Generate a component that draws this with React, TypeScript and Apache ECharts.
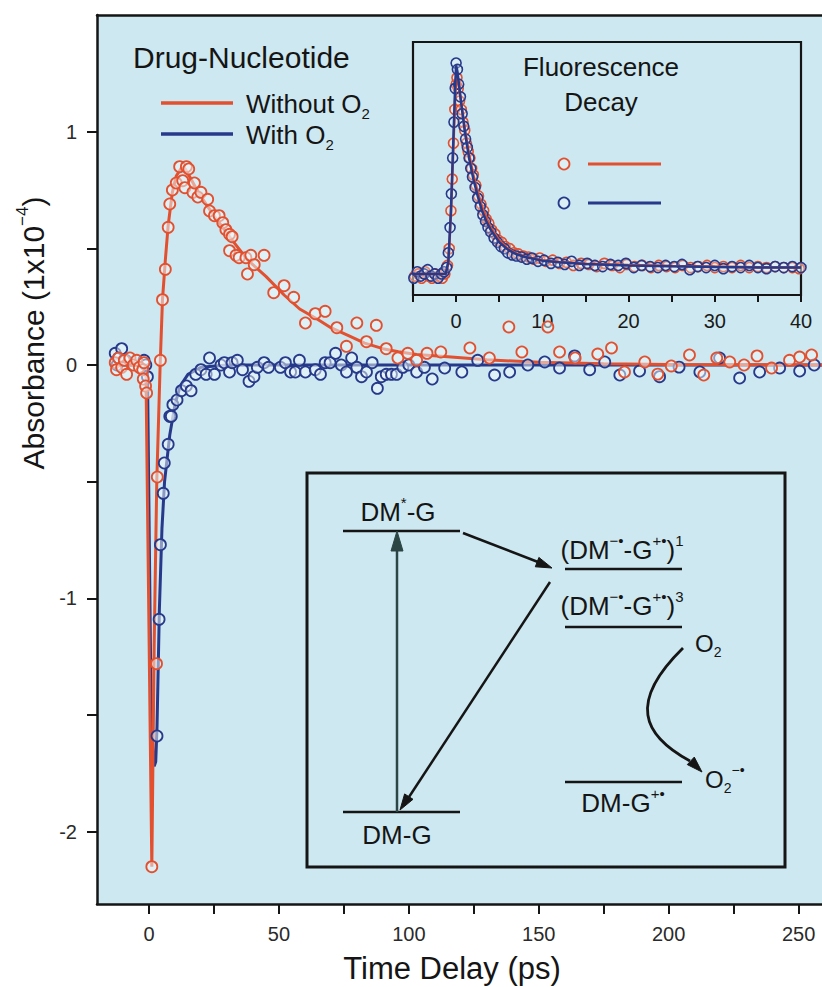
import React, { useEffect, useRef } from "react";
import * as echarts from "echarts";

const FONT = '"Liberation Sans", Arial, Helvetica, sans-serif';
const RED = "#e2502f";
const BLUE = "#27398a";
const BG = "#cde8f0";
const INK = "#151515";

// ---- main plot axes ----
const xTickValues = [0, 25, 50, 75, 100, 125, 150, 175, 200, 225, 250];
const xLabelValues = [0, 50, 100, 150, 200, 250];
const yTickValues = [-2, -1.5, -1, -0.5, 0, 0.5, 1];
const yLabelValues = [-2, -1, 0, 1];

// ---- main plot data: [time (ps), absorbance (1e-4)] ----
const withoutO2Points: number[][] = [
  [-13, 0.01], [-12.5, -0.02], [-11.7, 0.03], [-10.5, -0.01], [-9.5, 0.02], [-8.6, -0.04], [-7.3, 0.03], [-6, 0],
  [-4.7, 0.02], [-3.7, -0.01], [-2.4, -0.02], [-1.9, 0.01], [-2.2, -0.06], [-1.3, -0.09], [-0.9, -0.12],
  [1.1, -2.15], [2.9, -1.28], [3.2, -0.48], [4.4, 0.02],
  [5.2, 0.28], [6.3, 0.41], [7.4, 0.59], [8, 0.69], [9, 0.75], [10.5, 0.78], [11.8, 0.85], [13, 0.79], [13.8, 0.76],
  [14.4, 0.85], [15.3, 0.84], [16.9, 0.74], [17.5, 0.78], [18.8, 0.72], [20, 0.74], [22.6, 0.71], [23.3, 0.66],
  [25.2, 0.64], [27, 0.64], [28.4, 0.61], [29.6, 0.58], [31, 0.56], [32, 0.55], [31, 0.49], [33.5, 0.47],
  [34.7, 0.46], [37.3, 0.46], [39.2, 0.47], [40.5, 0.43], [37.9, 0.39], [44.3, 0.47], [48, 0.31], [52, 0.34],
  [55.7, 0.29], [60.2, 0.18], [64, 0.22], [67.8, 0.23], [72.3, 0.16], [76, 0.08], [80, 0.18], [83.7, 0.1],
  [87.5, 0.17], [91.3, 0.07], [95.8, 0.03], [99.6, 0.05], [103, 0.02], [107, 0.05],
  [112.3, 0.056], [123.5, 0.073], [131, 0.03], [138.5, 0.163], [143.5, 0.056], [153.5, 0.163], [158, 0.056],
  [164, 0.03], [172.7, 0.047], [178, 0.073], [183, -0.03], [190.8, 0.013], [195.8, -0.039], [201, -0.004],
  [208, 0.043], [213.5, -0.043], [218.5, 0.03], [223.5, 0.013], [229, 0], [234, 0.039], [239.6, -0.013],
  [246.5, 0.02], [250.4, 0.034], [255, 0.043],
];

const withO2Points: number[][] = [
  [-13, 0.05], [-12.3, 0.0], [-11.7, 0.03], [-10.5, 0.07], [-9, 0.02], [-1.9, 0.02], [-1.2, 0.0], [-0.6, -0.05],
  [3.1, -1.59], [3.9, -1.09], [4.4, -0.77], [5.5, -0.55], [5.9, -0.42], [7.4, -0.34], [8, -0.22], [8.6, -0.22],
  [9.2, -0.17], [10.8, -0.15], [12.5, -0.11], [14.4, -0.09], [16.2, -0.11], [18, -0.04], [20, -0.02], [22, -0.04],
  [23.3, 0.03], [25.2, -0.04], [27.7, 0], [29, 0.01], [31, -0.03], [32, 0.01], [34, 0.02], [36, -0.02],
  [38.5, -0.07], [40.4, -0.05], [41.7, -0.01], [44.3, 0.01], [46, -0.01], [50.6, -0.01], [52.5, 0.01],
  [54.5, -0.03], [56.3, -0.03], [57.9, 0.02], [60.2, -0.03], [64, -0.02], [66, -0.04], [67.8, 0.01], [69.7, 0.01],
  [71.8, 0.05], [74, 0], [76, -0.03], [78, 0.03], [80, -0.01], [81.8, -0.05], [83.7, -0.03], [85.9, 0.01],
  [87.9, -0.1], [89.4, -0.05], [91.3, -0.04], [93.3, -0.04], [95.3, -0.04], [97.7, -0.01], [100, 0], [103, -0.03],
  [106, -0.01], [109, -0.06], [113.8, -0.013], [120.4, -0.03], [126.5, 0.02], [133, -0.043], [138.8, -0.03],
  [145.8, 0], [152.3, 0.013], [158, -0.013], [163.8, 0.039], [169.6, -0.02], [175.4, 0.013], [181.2, -0.043],
  [188.8, -0.026], [196.5, -0.05], [204, -0.009], [212, -0.03], [219.6, 0.03], [227.3, -0.056], [235, -0.03],
  [242.7, -0.013], [250.4, -0.026], [256, 0],
];

const withoutO2Fit: number[][] = [
  [-13, 0], [-1.2, 0], [0.5, -1.6], [1.1, -2.15], [2, -1.2], [3, -0.5], [4.3, 0], [5.2, 0.28], [6.3, 0.45],
  [7.4, 0.6], [9, 0.74], [10.5, 0.81], [12.5, 0.845], [14, 0.84], [16, 0.8], [19.5, 0.73], [25, 0.64],
  [32, 0.535], [38, 0.45], [45, 0.38], [52, 0.3], [58, 0.24], [65, 0.195], [70, 0.16], [77, 0.125], [83, 0.094],
  [90, 0.07], [96, 0.057], [103, 0.045], [115, 0.035], [130, 0.022], [150, 0.012], [175, 0.005], [200, 0.002],
  [259, 0],
];

const withO2Fit: number[][] = [
  [-13, 0], [-0.6, 0], [0.9, -1.55], [2.0, -1.72], [2.6, -1.7], [3.1, -1.55], [4, -1.05], [5, -0.7], [6, -0.5],
  [8, -0.3], [10, -0.17], [12, -0.09], [15, -0.04], [20, -0.01], [30, 0], [259, 0],
];

// ---- inset (fluorescence decay) ----
const insetLabelValues = [0, 10, 20, 30, 40];

const insetWithoutPoints: number[][] = [
  [-4.8, -0.01], [-4.4, 0.0], [-4.0, -0.02], [-3.6, 0.01], [-3.2, -0.01], [-2.8, -0.02], [-2.4, 0.0], [-2.0, -0.01],
  [-1.6, -0.02], [-1.3, 0.0], [-1.0, 0.04], [-0.8, 0.12], [-0.6, 0.3], [-0.45, 0.45], [-0.3, 0.62], [-0.15, 0.78],
  [0, 0.9], [0.1, 0.93], [0.25, 0.88], [0.4, 0.82], [0.6, 0.78], [0.8, 0.72], [1.0, 0.68], [1.2, 0.62],
  [1.4, 0.58], [1.6, 0.55], [1.8, 0.5], [2.0, 0.47], [2.3, 0.42], [2.6, 0.37], [2.9, 0.33], [3.2, 0.3],
  [3.5, 0.26], [3.8, 0.24], [4.1, 0.21], [4.5, 0.19], [4.9, 0.16], [5.3, 0.15], [5.7, 0.13], [6.2, 0.12],
  [6.7, 0.1], [7.2, 0.095], [7.8, 0.085], [8.4, 0.08], [9.0, 0.07], [9.7, 0.075], [10.4, 0.06], [11.2, 0.065],
  [12.0, 0.05], [12.8, 0.055], [13.6, 0.04], [14.5, 0.05], [15.4, 0.045], [16.3, 0.035], [17.2, 0.05],
  [18.1, 0.04], [19.0, 0.03], [19.8, 0.045], [20.7, 0.035], [21.6, 0.04], [22.6, 0.03], [23.5, 0.04],
  [24.4, 0.035], [25.4, 0.03], [26.3, 0.04], [27.2, 0.03], [28.1, 0.035], [29.1, 0.04], [30.0, 0.03],
  [31.0, 0.035], [32.0, 0.03], [33.0, 0.04], [34.0, 0.03], [35.0, 0.035], [36.0, 0.03], [37.0, 0.035],
  [38.0, 0.03], [39.0, 0.03], [39.8, 0.025],
];

const insetWithPoints: number[][] = [
  [-4.9, -0.02], [-4.5, 0.01], [-4.1, -0.01], [-3.7, 0.0], [-3.3, 0.02], [-2.9, -0.01], [-2.5, 0.0], [-2.1, -0.02],
  [-1.7, 0.0], [-1.4, 0.01], [-1.1, 0.03], [-0.9, 0.1], [-0.7, 0.22], [-0.55, 0.38], [-0.4, 0.55], [-0.25, 0.72],
  [-0.1, 0.88], [0, 1.0], [0.15, 0.97], [0.3, 0.9], [0.5, 0.84], [0.7, 0.76], [0.9, 0.7], [1.1, 0.64],
  [1.3, 0.6], [1.5, 0.55], [1.7, 0.5], [1.9, 0.46], [2.2, 0.41], [2.5, 0.36], [2.8, 0.32], [3.1, 0.28],
  [3.4, 0.25], [3.7, 0.22], [4.0, 0.2], [4.4, 0.17], [4.8, 0.15], [5.2, 0.13], [5.6, 0.12], [6.0, 0.1],
  [6.5, 0.09], [7.0, 0.085], [7.6, 0.08], [8.2, 0.07], [8.8, 0.075], [9.5, 0.06], [10.2, 0.065], [11.0, 0.05],
  [11.8, 0.055], [12.6, 0.045], [13.4, 0.06], [14.3, 0.04], [15.2, 0.05], [16.1, 0.04], [17.0, 0.035],
  [17.9, 0.045], [18.8, 0.04], [19.7, 0.05], [20.6, 0.03], [21.5, 0.04], [22.5, 0.035], [23.4, 0.03],
  [24.3, 0.04], [25.3, 0.035], [26.2, 0.045], [27.1, 0.02], [28.0, 0.035], [29.0, 0.03], [30.0, 0.04],
  [31.0, 0.025], [32.0, 0.035], [33.0, 0.03], [34.0, 0.04], [35.0, 0.03], [36.0, 0.025], [37.0, 0.035],
  [38.0, 0.03], [39.0, 0.035], [40.0, 0.03],
];

const insetWithoutFit: number[][] = [
  [-5, 0], [-1.2, 0], [-0.9, 0.05], [-0.6, 0.28], [-0.3, 0.62], [-0.1, 0.85], [0.05, 0.94], [0.2, 0.92],
  [0.5, 0.84], [1, 0.69], [1.5, 0.57], [2, 0.47], [2.5, 0.39], [3, 0.32], [3.5, 0.27], [4, 0.22], [5, 0.16],
  [6, 0.12], [7, 0.097], [8, 0.082], [10, 0.065], [12, 0.056], [15, 0.048], [20, 0.042], [25, 0.038],
  [30, 0.035], [35, 0.032], [40, 0.03],
];

const insetWithFit: number[][] = [
  [-5, 0], [-1.2, 0], [-0.9, 0.06], [-0.6, 0.3], [-0.3, 0.66], [-0.1, 0.9], [0, 0.99], [0.15, 0.96],
  [0.5, 0.84], [1, 0.68], [1.5, 0.55], [2, 0.45], [2.5, 0.37], [3, 0.3], [3.5, 0.25], [4, 0.21], [5, 0.15],
  [6, 0.115], [7, 0.093], [8, 0.08], [10, 0.063], [12, 0.055], [15, 0.047], [20, 0.04], [25, 0.036],
  [30, 0.033], [35, 0.031], [40, 0.03],
];

const richBase = (size: number) => ({
  n: { fontSize: size, lineHeight: size + 8, fontFamily: FONT, fill: INK },
  sup: { fontSize: Math.round(size * 0.58), lineHeight: Math.round(size * 0.58), fontFamily: FONT, fill: INK, verticalAlign: "top" },
  sub: { fontSize: Math.round(size * 0.58), lineHeight: Math.round(size * 0.58), fontFamily: FONT, fill: INK, verticalAlign: "bottom" },
});

function txt(x: number, y: number, text: string, size: number, align = "center", extra: any = {}) {
  return {
    type: "text",
    x,
    y,
    z: 100,
    ...extra,
    style: {
      text,
      rich: richBase(size),
      fontSize: size,
      fontFamily: FONT,
      fill: INK,
      align,
      textAlign: align,
      verticalAlign: "middle",
      textVerticalAlign: "middle",
    },
  };
}

function seg(x1: number, y1: number, x2: number, y2: number, color = INK, w = 2.5) {
  return { type: "line", z: 100, shape: { x1, y1, x2, y2 }, style: { stroke: color, lineWidth: w } };
}

function head(points: number[][], color = INK) {
  return { type: "polygon", z: 100, shape: { points }, style: { fill: color, stroke: color, lineWidth: 1 } };
}

const axisLineStyle = { color: INK, width: 2.5 };

export default function App() {
  const ref = useRef<HTMLDivElement>(null);

  useEffect(() => {
    if (!ref.current) return;
    const chart = echarts.init(ref.current, null, { renderer: "svg" });

    const option: any = {
      animation: false,
      backgroundColor: "#ffffff",
      textStyle: { fontFamily: FONT },
      grid: [
        { left: 97, top: 15, width: 725, height: 889, show: true, backgroundColor: BG, borderWidth: 0, z: 0 },
        { left: 413, top: 42, width: 388, height: 253, show: true, backgroundColor: "transparent", borderColor: INK, borderWidth: 2.2 },
      ],
      xAxis: [
        {
          gridIndex: 0, type: "value", min: -20, max: 259,
          axisLine: { show: true, onZero: false, lineStyle: axisLineStyle },
          axisTick: { show: true, length: 10, customValues: xTickValues, lineStyle: { color: INK, width: 2 } },
          axisLabel: { customValues: xLabelValues, fontSize: 20, color: "#2a2a2a", margin: 20, fontFamily: FONT },
          splitLine: { show: false },
        },
        {
          gridIndex: 0, type: "value", position: "top", min: -20, max: 259,
          axisLine: { show: true, onZero: false, lineStyle: axisLineStyle },
          axisTick: { show: false }, axisLabel: { show: false }, splitLine: { show: false },
        },
        {
          gridIndex: 1, type: "value", min: -5, max: 40, interval: 5,
          axisLine: { show: true, onZero: false, lineStyle: { color: INK, width: 2.2 } },
          axisTick: { show: true, length: 7, lineStyle: { color: INK, width: 2 } },
          axisLabel: {
            customValues: insetLabelValues, fontSize: 20, color: "#1a1a1a", margin: 16, fontFamily: FONT,
            showMinLabel: true, showMaxLabel: true,
          },
          splitLine: { show: false },
        },
      ],
      yAxis: [
        {
          gridIndex: 0, type: "value", min: -2.31, max: 1.5,
          axisLine: { show: true, onZero: false, lineStyle: axisLineStyle },
          axisTick: { show: true, length: 10, customValues: yTickValues, lineStyle: { color: INK, width: 2 } },
          axisLabel: { customValues: yLabelValues, fontSize: 20, color: "#2a2a2a", margin: 20, fontFamily: FONT },
          splitLine: { show: false },
        },
        {
          gridIndex: 1, type: "value", min: -0.1, max: 1.1,
          axisLine: { show: false }, axisTick: { show: false }, axisLabel: { show: false }, splitLine: { show: false },
        },
      ],
      series: [
        {
          name: "With O₂ fit", type: "line", xAxisIndex: 0, yAxisIndex: 0, data: withO2Fit,
          symbol: "none", lineStyle: { color: BLUE, width: 3 }, z: 2,
        },
        {
          name: "Without O₂ fit", type: "line", xAxisIndex: 0, yAxisIndex: 0, data: withoutO2Fit,
          symbol: "none", lineStyle: { color: RED, width: 3 }, z: 2,
        },
        {
          name: "With O₂", type: "scatter", xAxisIndex: 0, yAxisIndex: 0, data: withO2Points, symbolSize: 11,
          itemStyle: { color: "rgba(240,250,252,0.5)", borderColor: BLUE, borderWidth: 1.8, opacity: 1 }, z: 3,
        },
        {
          name: "Without O₂", type: "scatter", xAxisIndex: 0, yAxisIndex: 0, data: withoutO2Points, symbolSize: 11,
          itemStyle: { color: "rgba(240,250,252,0.5)", borderColor: RED, borderWidth: 1.8, opacity: 1 }, z: 3,
        },
        {
          name: "Inset without O₂", type: "scatter", xAxisIndex: 2, yAxisIndex: 1, data: insetWithoutPoints, symbolSize: 10,
          itemStyle: { color: "rgba(240,250,252,0.3)", borderColor: RED, borderWidth: 1.6, opacity: 1 }, z: 3,
        },
        {
          name: "Inset with O₂", type: "scatter", xAxisIndex: 2, yAxisIndex: 1, data: insetWithPoints, symbolSize: 10,
          itemStyle: { color: "rgba(240,250,252,0.3)", borderColor: BLUE, borderWidth: 1.6, opacity: 1 }, z: 3,
        },
        {
          name: "Inset without O₂ fit", type: "line", xAxisIndex: 2, yAxisIndex: 1, data: insetWithoutFit,
          symbol: "none", lineStyle: { color: RED, width: 2.5 }, z: 4,
        },
        {
          name: "Inset with O₂ fit", type: "line", xAxisIndex: 2, yAxisIndex: 1, data: insetWithFit,
          symbol: "none", lineStyle: { color: BLUE, width: 2.5 }, z: 4,
        },
      ],
      graphic: [
        // axis titles
        txt(452, 968, "{n|Time Delay (ps)}", 31),
        txt(33, 333, "{n|Absorbance (1x10}{sup|−4}{n|)}", 30, "center", { rotation: Math.PI / 2 }),
        // main legend
        txt(133, 57, "{n|Drug-Nucleotide}", 30, "left"),
        seg(161, 103, 233, 103, RED, 3.5),
        txt(246, 104, "{n|Without O}{sub|2}", 26, "left"),
        seg(161, 134, 233, 134, BLUE, 3.5),
        txt(246, 135, "{n|With O}{sub|2}", 26, "left"),
        // inset title and legend
        txt(601, 67, "{n|Fluorescence}", 26),
        txt(601, 102, "{n|Decay}", 26),
        { type: "circle", z: 100, shape: { cx: 564, cy: 164, r: 5.5 }, style: { fill: "rgba(240,250,252,0.4)", stroke: RED, lineWidth: 1.8 } },
        seg(588, 164, 661, 164, RED, 3),
        { type: "circle", z: 100, shape: { cx: 564, cy: 203, r: 5.5 }, style: { fill: "rgba(240,250,252,0.4)", stroke: BLUE, lineWidth: 1.8 } },
        seg(588, 203, 661, 203, BLUE, 3),
        // scheme box
        { type: "rect", z: 100, shape: { x: 307, y: 473, width: 478, height: 394 }, style: { fill: "none", stroke: INK, lineWidth: 3 } },
        // energy levels
        seg(343, 531, 460, 531),
        seg(343, 812, 460, 812),
        seg(565, 569, 682, 569),
        seg(565, 627, 682, 627),
        seg(565, 782, 682, 782),
        // level labels
        txt(398, 512, "{n|DM}{sup|*}{n|-G}", 26),
        txt(397, 835, "{n|DM-G}", 26),
        txt(622, 550, "{n|(DM}{sup|−•}{n|-G}{sup|+•}{n|)}{sup|1}", 26),
        txt(622, 606, "{n|(DM}{sup|−•}{n|-G}{sup|+•}{n|)}{sup|3}", 26),
        txt(695, 643, "{n|O}{sub|2}", 24, "left"),
        txt(705, 779, "{n|O}{sub|2}{sup|−•}", 24, "left"),
        txt(623, 803, "{n|DM-G}{sup|+•}", 26),
        // excitation arrow
        seg(397, 812, 397, 548, "#2c4545", 2.5),
        head([[397, 531], [391, 551], [403, 551]], "#2c4545"),
        // DM*-G -> CT arrow
        seg(463, 533, 538, 562, INK, 2.5),
        head([[552, 568], [535.3, 566.8], [538.9, 557.4]]),
        // CT -> DM-G arrow
        seg(550, 582, 409, 797, INK, 2.5),
        head([[400, 810], [404.6, 793.9], [413.0, 799.3]]),
        // O2 curved arrow
        {
          type: "bezierCurve", z: 100,
          shape: { x1: 683, y1: 648, cpx1: 628, cpy1: 702, cpx2: 642, cpy2: 735, x2: 690, y2: 761 },
          style: { stroke: INK, lineWidth: 2.8, fill: "none" },
        },
        head([[702, 772], [687.3, 764.6], [694.3, 757.1]]),
      ],
    };

    chart.setOption(option);
    return () => chart.dispose();
  }, []);

  return <div ref={ref} style={{ position: "absolute", left: 0, top: 0, width: 822, height: 987 }} />;
}
